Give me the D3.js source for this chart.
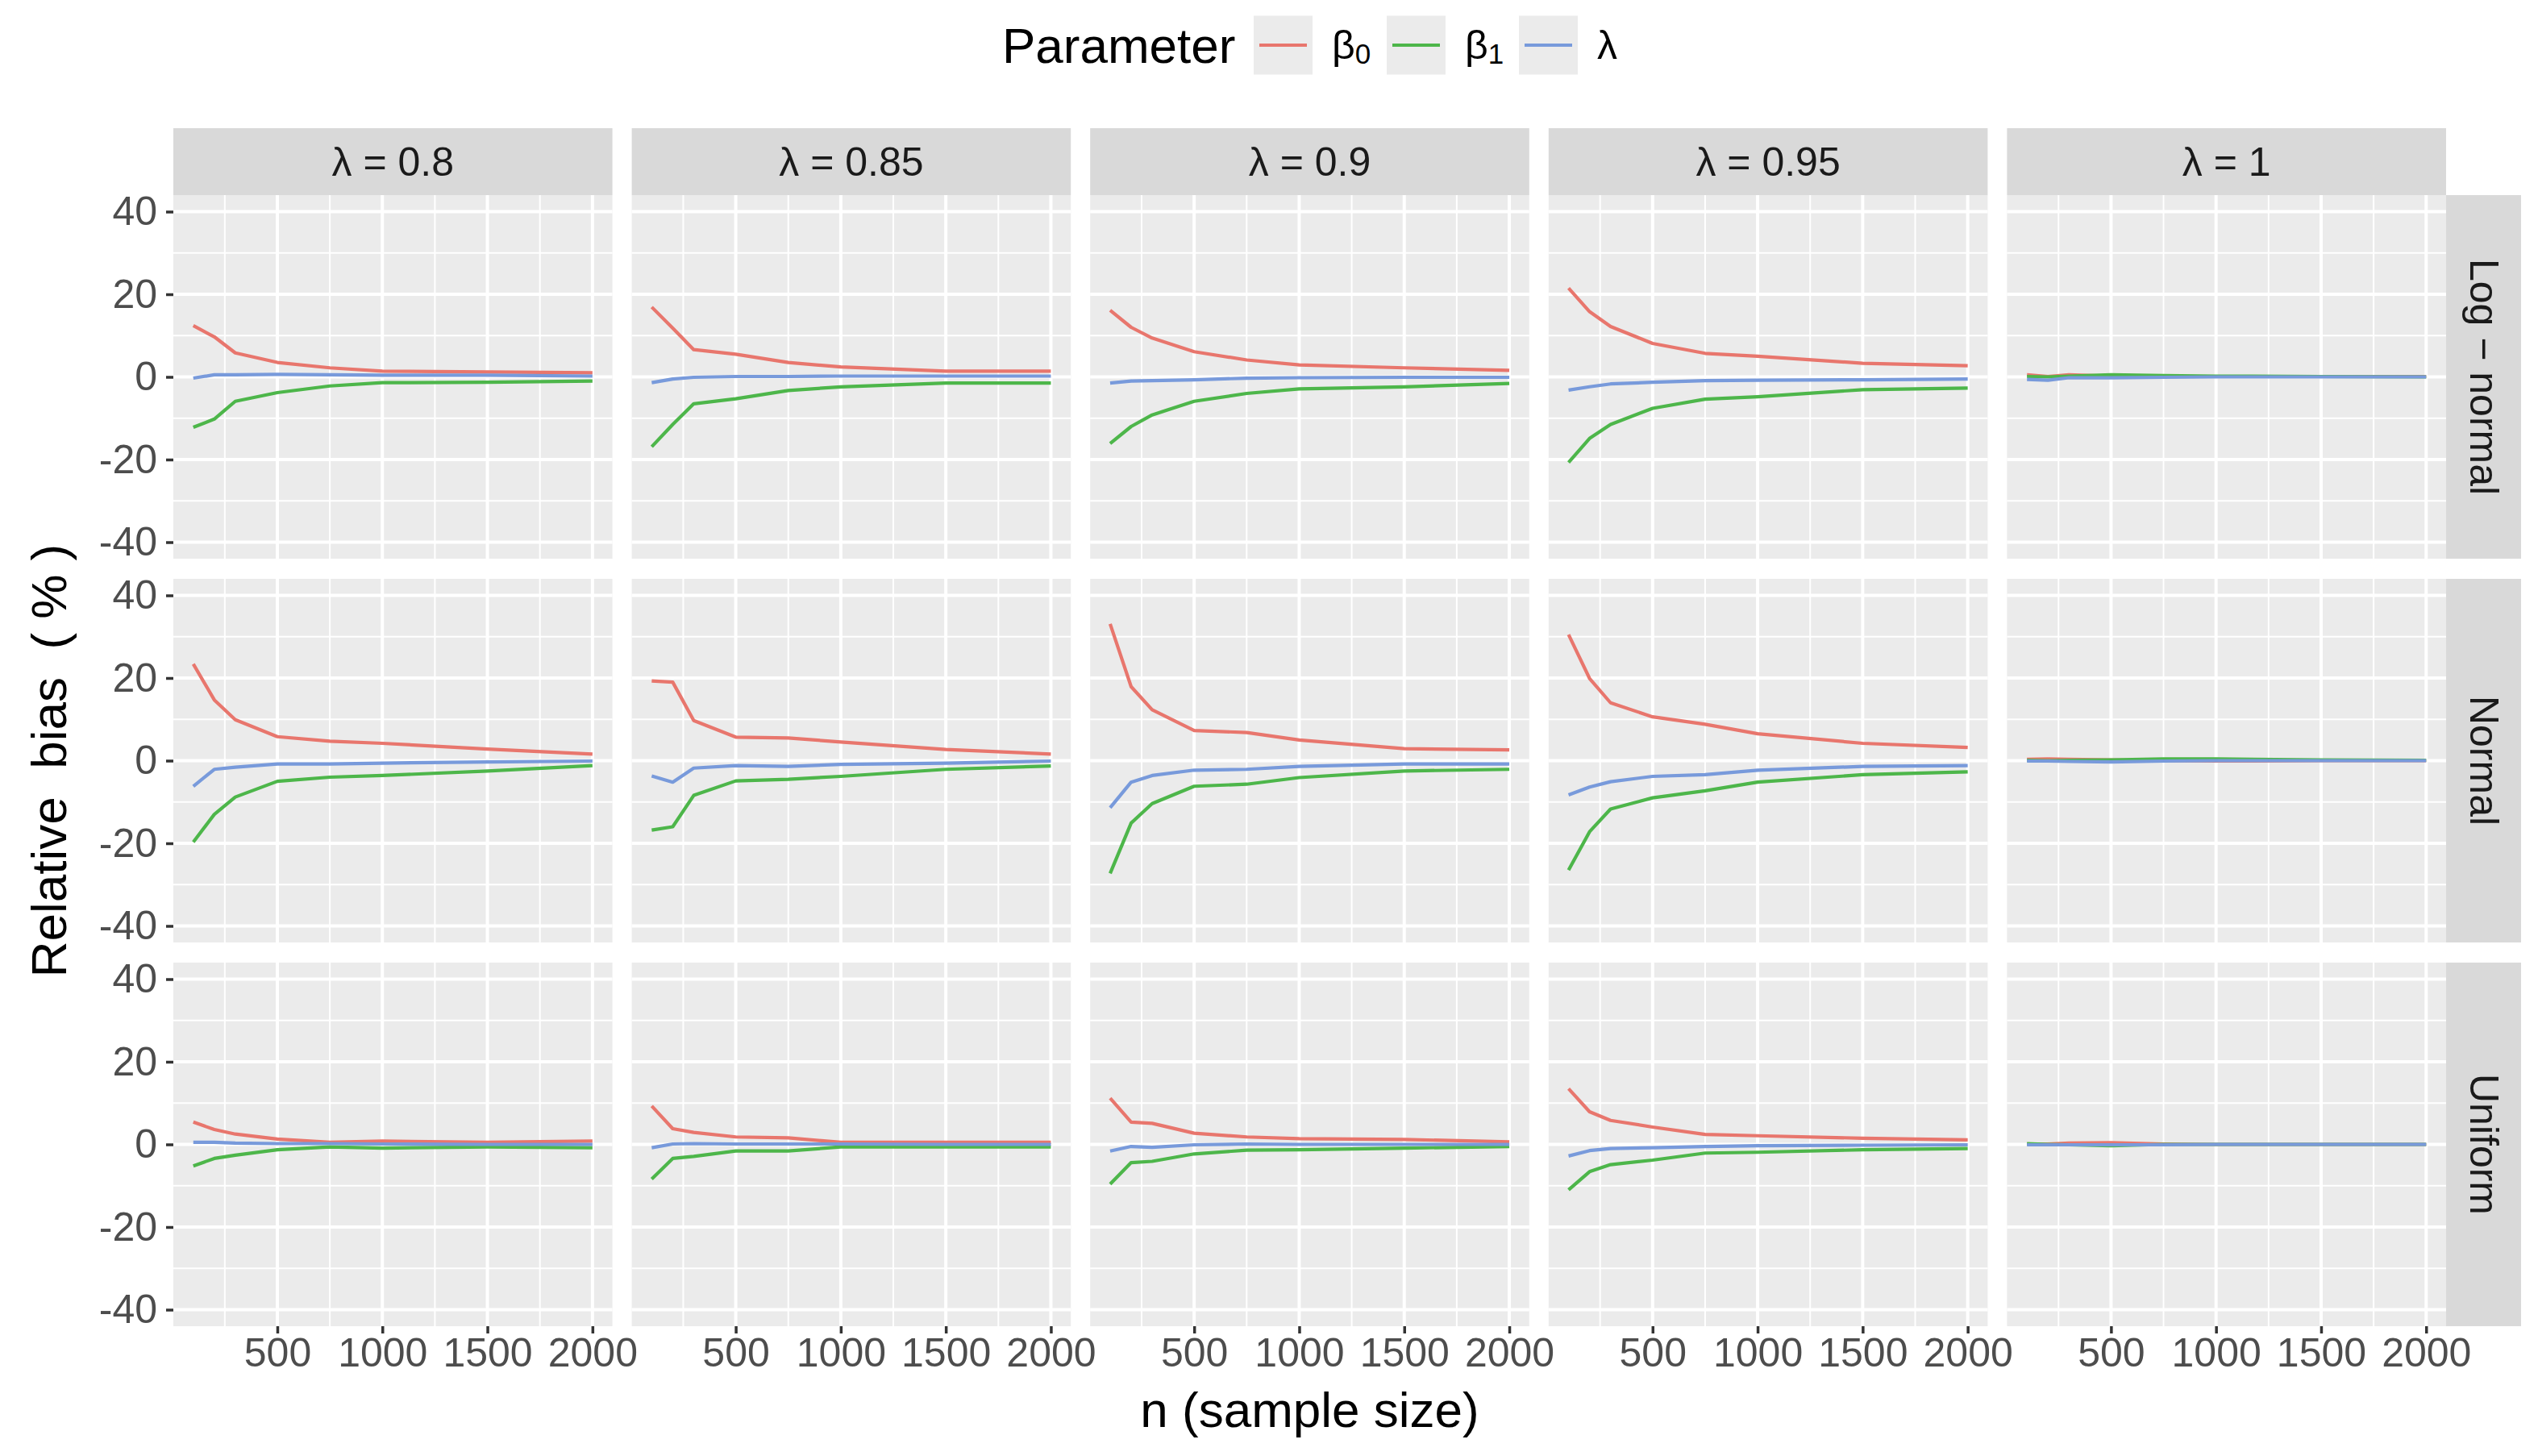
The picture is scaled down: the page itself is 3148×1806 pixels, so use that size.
<!DOCTYPE html>
<html>
<head>
<meta charset="utf-8">
<script src="https://cdn.jsdelivr.net/npm/d3@7"></script>
<style>
  body { margin: 0; background: #fff; }
  text { font-family: "Liberation Sans", Arial, Helvetica, sans-serif; }
</style>
</head>
<body>
<div id="chart"></div>
<script>

// 1. Data

const sampleSizes = [100, 200, 300, 500, 750, 1000, 1500, 2000];
const lambdaLevels = ["0.8", "0.85", "0.9", "0.95", "1"];
const distributions = ["Log \u2212 normal", "Normal", "Uniform"];
const parameterNames = ["β0", "β1", "λ"];
const parameterColors = ["#E8766D", "#4DB64A", "#789ADB"];

const yMajorTicks = [-40, -20, 0, 20, 40];
const yMinorTicks = [-30, -10, 10, 30];
const xMajorTicks = [500, 1000, 1500, 2000];
const xMinorTicks = [250, 750, 1250, 1750];

// one row per lambda level (0.8, 0.85, 0.9, 0.95, 1), one value per sample size
const logNormalBeta0 = [
    [12.4, 9.7, 5.8, 3.5, 2.2, 1.4, 1.2, 1.0],
    [16.9, 11.8, 6.6, 5.5, 3.5, 2.4, 1.4, 1.4],
    [16.1, 12.0, 9.4, 6.1, 4.1, 2.9, 2.2, 1.6],
    [21.5, 15.8, 12.2, 8.1, 5.7, 5.0, 3.3, 2.7],
    [0.5, 0.1, 0.5, 0.2, 0.1, 0.1, 0.1, 0.1]
];
const logNormalBeta1 = [
    [-12.2, -10.2, -5.9, -3.8, -2.2, -1.4, -1.3, -1.0],
    [-16.9, -11.5, -6.5, -5.3, -3.3, -2.4, -1.5, -1.5],
    [-16.1, -12.0, -9.2, -5.9, -4.0, -2.9, -2.4, -1.6],
    [-20.7, -14.9, -11.5, -7.6, -5.4, -4.8, -3.1, -2.7],
    [0.1, 0.0, 0.2, 0.5, 0.3, 0.2, 0.1, 0.0]
];
const logNormalLambda = [
    [-0.3, 0.5, 0.5, 0.6, 0.5, 0.4, 0.4, 0.2],
    [-1.4, -0.5, -0.1, 0.1, 0.1, 0.2, 0.2, 0.2],
    [-1.5, -1.0, -0.9, -0.7, -0.3, -0.2, -0.1, -0.1],
    [-3.2, -2.4, -1.7, -1.3, -0.9, -0.8, -0.7, -0.5],
    [-0.6, -0.8, -0.2, -0.2, -0.1, 0.0, 0.0, 0.0]
];

const normalBeta0 = [
    [23.4, 14.7, 9.9, 5.8, 4.7, 4.2, 2.8, 1.6],
    [19.3, 19.0, 9.7, 5.7, 5.5, 4.5, 2.7, 1.6],
    [33.1, 17.9, 12.3, 7.3, 6.8, 5.0, 2.9, 2.6],
    [30.5, 19.9, 14.0, 10.6, 8.8, 6.5, 4.2, 3.2],
    [0.3, 0.4, 0.3, 0.2, 0.0, -0.1, 0.0, 0.0]
];
const normalBeta1 = [
    [-19.7, -13.0, -8.8, -5.0, -4.0, -3.6, -2.5, -1.2],
    [-16.8, -16.0, -8.4, -4.9, -4.5, -3.8, -2.1, -1.3],
    [-27.3, -15.1, -10.4, -6.2, -5.7, -4.1, -2.5, -2.1],
    [-26.5, -17.2, -11.7, -9.0, -7.3, -5.2, -3.4, -2.7],
    [0.1, 0.0, 0.1, 0.2, 0.4, 0.4, 0.2, 0.1]
];
const normalLambda = [
    [-6.2, -2.1, -1.6, -0.8, -0.8, -0.6, -0.3, -0.1],
    [-3.7, -5.2, -1.8, -1.2, -1.4, -0.9, -0.6, -0.1],
    [-11.4, -5.2, -3.6, -2.3, -2.1, -1.4, -0.8, -0.8],
    [-8.3, -6.4, -5.1, -3.8, -3.4, -2.3, -1.4, -1.2],
    [-0.1, -0.1, -0.2, -0.3, -0.1, 0.0, 0.0, 0.0]
];

const uniformBeta0 = [
    [5.4, 3.6, 2.5, 1.3, 0.5, 0.8, 0.5, 0.8],
    [9.3, 3.8, 2.9, 1.8, 1.6, 0.5, 0.5, 0.5],
    [11.2, 5.4, 5.1, 2.7, 1.8, 1.4, 1.2, 0.6],
    [13.5, 7.9, 5.8, 4.2, 2.4, 2.1, 1.5, 1.1],
    [0.1, 0.1, 0.3, 0.4, 0.1, 0.0, 0.0, 0.0]
];
const uniformBeta1 = [
    [-5.2, -3.4, -2.6, -1.3, -0.6, -0.9, -0.6, -0.8],
    [-8.4, -3.4, -2.9, -1.6, -1.6, -0.6, -0.6, -0.6],
    [-9.6, -4.4, -4.1, -2.3, -1.4, -1.3, -0.9, -0.5],
    [-11.0, -6.6, -4.9, -3.8, -2.1, -1.9, -1.3, -1.0],
    [0.2, 0.0, -0.1, -0.3, 0.0, 0.0, 0.0, 0.0]
];
const uniformLambda = [
    [0.5, 0.5, 0.3, 0.2, 0.2, 0.1, 0.0, 0.0],
    [-0.8, 0.1, 0.2, 0.1, 0.1, 0.1, 0.0, 0.0],
    [-1.6, -0.5, -0.7, -0.1, 0.1, 0.0, 0.0, 0.0],
    [-2.8, -1.5, -1.0, -0.8, -0.5, -0.3, -0.2, -0.1],
    [-0.1, -0.1, -0.1, -0.1, -0.1, 0.0, 0.0, 0.0]
];

// rows of the facet grid -> [beta0, beta1, lambda]
const seriesByDistribution = [
    [logNormalBeta0, logNormalBeta1, logNormalLambda],
    [normalBeta0, normalBeta1, normalLambda],
    [uniformBeta0, uniformBeta1, uniformLambda]
];

// 2. Dimensions

const dimensions = {
    width: 3148,
    height: 1806,
    panelLeft: 215,
    panelTop: 242,
    panelWidth: 544.6,
    panelHeight: 451,
    colGap: 24,
    rowGap: 25,
    stripHeight: 83,
    stripWidth: 93,
}

const panelX = c => dimensions.panelLeft + c * (dimensions.panelWidth + dimensions.colGap);
const panelY = r => dimensions.panelTop + r * (dimensions.panelHeight + dimensions.rowGap);

const svg = d3.select("#chart")
    .append("svg")
        .attr("width", dimensions.width)
        .attr("height", dimensions.height)

svg.append("rect")
    .attr("width", dimensions.width)
    .attr("height", dimensions.height)
    .attr("fill", "#FFFFFF")

// 3. Scales

const xScale = d3.scaleLinear()
    .domain([5, 2095])
    .range([0, dimensions.panelWidth]);

const yScale = d3.scaleLinear()
    .domain([-44, 44])
    .range([dimensions.panelHeight, 0]);

const lineGen = d3.line()
    .x(d => xScale(d.n))
    .y(d => yScale(d.bias));

const tickFont = "50px";
const stripFont = "50px";

// 4. Panels

distributions.forEach((dist, r) => {
    lambdaLevels.forEach((lam, c) => {
        const panel = svg.append("g")
            .attr("transform", `translate(${panelX(c)}, ${panelY(r)})`);

        panel.append("rect")
            .attr("width", dimensions.panelWidth)
            .attr("height", dimensions.panelHeight)
            .attr("fill", "#EBEBEB");

        // minor grid
        panel.selectAll(".ygrid-minor")
            .data(yMinorTicks)
            .join("line")
                .attr("x1", 0).attr("x2", dimensions.panelWidth)
                .attr("y1", d => yScale(d)).attr("y2", d => yScale(d))
                .attr("stroke", "#FFFFFF").attr("stroke-width", 2);
        panel.selectAll(".xgrid-minor")
            .data(xMinorTicks)
            .join("line")
                .attr("y1", 0).attr("y2", dimensions.panelHeight)
                .attr("x1", d => xScale(d)).attr("x2", d => xScale(d))
                .attr("stroke", "#FFFFFF").attr("stroke-width", 2);

        // major grid
        panel.selectAll(".ygrid-major")
            .data(yMajorTicks)
            .join("line")
                .attr("x1", 0).attr("x2", dimensions.panelWidth)
                .attr("y1", d => yScale(d)).attr("y2", d => yScale(d))
                .attr("stroke", "#FFFFFF").attr("stroke-width", 4);
        panel.selectAll(".xgrid-major")
            .data(xMajorTicks)
            .join("line")
                .attr("y1", 0).attr("y2", dimensions.panelHeight)
                .attr("x1", d => xScale(d)).attr("x2", d => xScale(d))
                .attr("stroke", "#FFFFFF").attr("stroke-width", 4);

        // lines, beta0 first and lambda on top
        seriesByDistribution[r].forEach((series, p) => {
            const pts = sampleSizes.map((n, i) => ({n: n, bias: series[c][i]}));
            panel.append("path")
                .datum(pts)
                .attr("d", lineGen)
                .attr("fill", "none")
                .attr("stroke", parameterColors[p])
                .attr("stroke-width", 4.2)
                .attr("stroke-linejoin", "round");
        });

        // y axis on first column
        if (c === 0) {
            const yAxis = panel.append("g")
                .call(d3.axisLeft(yScale).tickValues(yMajorTicks).tickSize(9).tickPadding(11)
                    .tickFormat(d => d < 0 ? "-" + Math.abs(d) : String(d)));
            yAxis.select(".domain").remove();
            yAxis.selectAll("line").attr("stroke", "#333333").attr("stroke-width", 3.5);
            yAxis.selectAll("text")
                .attr("fill", "#4D4D4D")
                .style("font-size", tickFont)
                .style("font-family", '"Liberation Sans", Arial, sans-serif');
        }

        // x axis on last row
        if (r === distributions.length - 1) {
            const xAxis = panel.append("g")
                .attr("transform", `translate(0, ${dimensions.panelHeight})`)
                .call(d3.axisBottom(xScale).tickValues(xMajorTicks).tickSize(9).tickPadding(5)
                    .tickFormat(d => String(d)));
            xAxis.select(".domain").remove();
            xAxis.selectAll("line").attr("stroke", "#333333").attr("stroke-width", 3.5);
            xAxis.selectAll("text")
                .attr("fill", "#4D4D4D")
                .style("font-size", tickFont)
                .style("font-family", '"Liberation Sans", Arial, sans-serif');
        }
    });
});

// 5. Strips

lambdaLevels.forEach((lam, c) => {
    const strip = svg.append("g")
        .attr("transform", `translate(${panelX(c)}, ${dimensions.panelTop - dimensions.stripHeight})`);
    strip.append("rect")
        .attr("width", dimensions.panelWidth)
        .attr("height", dimensions.stripHeight)
        .attr("fill", "#D9D9D9");
    strip.append("text")
        .attr("x", dimensions.panelWidth / 2)
        .attr("y", dimensions.stripHeight / 2)
        .attr("text-anchor", "middle")
        .attr("dominant-baseline", "central")
        .attr("fill", "#1A1A1A")
        .style("font-size", stripFont)
        .style("white-space", "pre")
        .text(`λ = ${lam}`);
});

const stripLeft = panelX(lambdaLevels.length - 1) + dimensions.panelWidth;
distributions.forEach((dist, r) => {
    const strip = svg.append("g")
        .attr("transform", `translate(${stripLeft}, ${panelY(r)})`);
    strip.append("rect")
        .attr("width", dimensions.stripWidth)
        .attr("height", dimensions.panelHeight)
        .attr("fill", "#D9D9D9");
    strip.append("text")
        .attr("transform", `translate(${dimensions.stripWidth / 2}, ${dimensions.panelHeight / 2}) rotate(90)`)
        .attr("text-anchor", "middle")
        .attr("dominant-baseline", "central")
        .attr("fill", "#1A1A1A")
        .style("font-size", stripFont)
        .text(dist);
});

// 6. Axis titles

const gridCenterX = (panelX(0) + panelX(lambdaLevels.length - 1) + dimensions.panelWidth) / 2;
const gridCenterY = (panelY(0) + panelY(distributions.length - 1) + dimensions.panelHeight) / 2;

svg.append("text")
    .attr("x", gridCenterX)
    .attr("y", 1748)
    .attr("text-anchor", "middle")
    .attr("dominant-baseline", "central")
    .attr("fill", "#000000")
    .style("font-size", "62px")
    .text("n (sample size)");

svg.append("text")
    .attr("transform", `translate(60, ${gridCenterY}) rotate(-90)`)
    .attr("text-anchor", "middle")
    .attr("dominant-baseline", "central")
    .attr("fill", "#000000")
    .style("font-size", "62px")
    .style("white-space", "pre")
    .text("Relative  bias  ( % )");

// 7. Legend

const legend = svg.append("g")
    .attr("transform", "translate(0, 56)");

legend.append("text")
    .attr("x", 1243)
    .attr("y", 0)
    .attr("dominant-baseline", "central")
    .attr("fill", "#000000")
    .style("font-size", "62px")
    .text("Parameter");

const keyStarts = [1555, 1720, 1884];
const keySize = 73;

parameterNames.forEach((name, i) => {
    const key = legend.append("g")
        .attr("transform", `translate(${keyStarts[i]}, 0)`);
    key.append("rect")
        .attr("x", 0)
        .attr("y", -keySize / 2)
        .attr("width", keySize)
        .attr("height", keySize)
        .attr("fill", "#EBEBEB");
    key.append("line")
        .attr("x1", 7).attr("x2", keySize - 7)
        .attr("y1", 0).attr("y2", 0)
        .attr("stroke", parameterColors[i])
        .attr("stroke-width", 4.2);

    const label = key.append("text")
        .attr("x", keySize + 24)
        .attr("y", 0)
        .attr("dominant-baseline", "central")
        .attr("fill", "#000000")
        .style("font-size", "50px");
    label.append("tspan").text(name.charAt(0));
    if (name.length > 1) {
        label.append("tspan")
            .attr("dy", 10)
            .style("font-size", "35px")
            .text(name.slice(1));
    }
});

</script>
</body>
</html>
